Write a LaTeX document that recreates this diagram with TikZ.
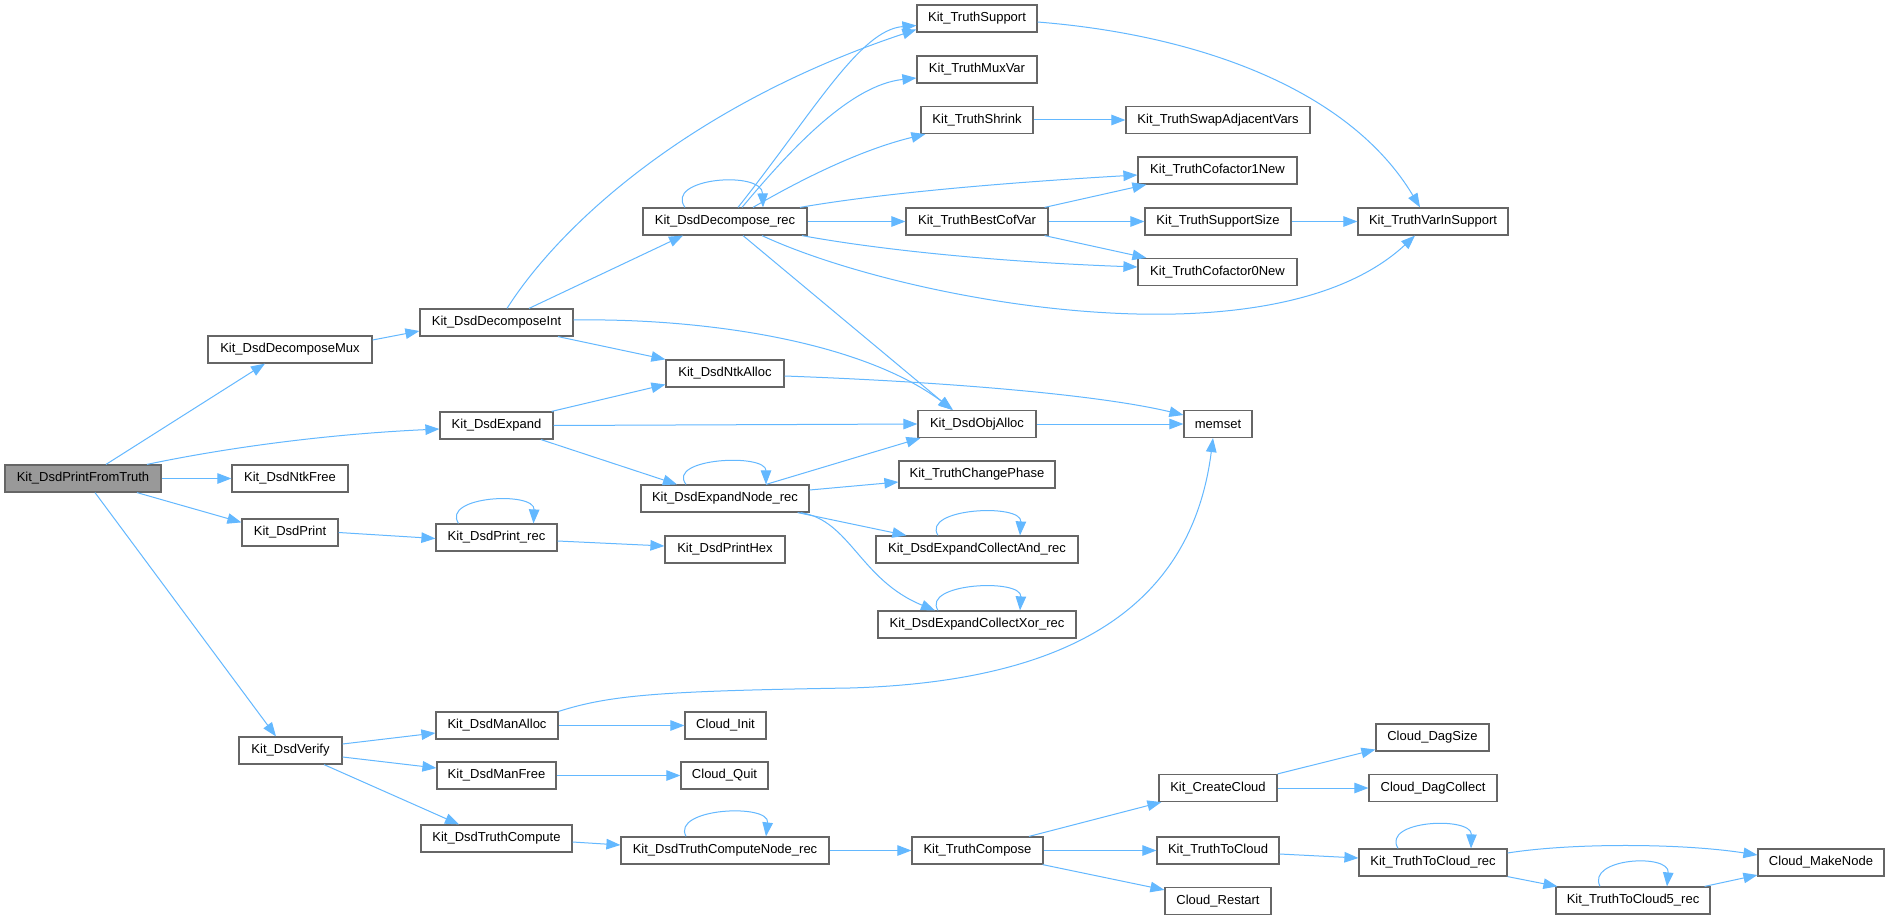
\documentclass[tikz,border=0pt]{standalone}
\usepackage{fontspec}
\setmainfont{Liberation Sans}
\usetikzlibrary{arrows.meta}
\definecolor{edgec}{HTML}{63B8FF}
\definecolor{borderc}{HTML}{666666}
\definecolor{rootc}{HTML}{999999}
\tikzset{
  box/.style={draw=borderc, line width=1.2pt, fill=white, minimum height=27pt, inner sep=0pt, font=\fontsize{13}{15}\selectfont, text=black},
  rootbox/.style={box, fill=rootc},
  e/.style={draw=edgec, line width=1pt, -{Triangle[length=14pt,width=10.5pt]}, fill=none},
}
\begin{document}
\begin{tikzpicture}[x=1pt,y=1pt]
\useasboundingbox (0,0) rectangle (1889,-920);
\fill[white] (0,0) rectangle (1889,-920);
% nodes
\node[rootbox, minimum width=156pt] (A) at (83,-478.5) {Kit\_DsdPrintFromTruth};
\node[box, minimum width=164pt] (B) at (290,-349.5) {Kit\_DsdDecomposeMux};
\node[box, minimum width=116pt] (C) at (290,-478.5) {Kit\_DsdNtkFree};
\node[box, minimum width=96pt] (D) at (290,-532.5) {Kit\_DsdPrint};
\node[box, minimum width=103pt] (E) at (290.5,-750.5) {Kit\_DsdVerify};
\node[box, minimum width=153pt] (F) at (496.5,-322.5) {Kit\_DsdDecomposeInt};
\node[box, minimum width=113pt] (G) at (496.5,-425.5) {Kit\_DsdExpand};
\node[box, minimum width=121pt] (H) at (496.5,-537.5) {Kit\_DsdPrint\_rec};
\node[box, minimum width=122pt] (I) at (497,-725.5) {Kit\_DsdManAlloc};
\node[box, minimum width=119pt] (J) at (496.5,-775.5) {Kit\_DsdManFree};
\node[box, minimum width=151pt] (K) at (496.5,-838.5) {Kit\_DsdTruthCompute};
\node[box, minimum width=164pt] (L) at (725,-221.5) {Kit\_DsdDecompose\_rec};
\node[box, minimum width=118pt] (M) at (725,-373.5) {Kit\_DsdNtkAlloc};
\node[box, minimum width=168pt] (N) at (725,-498.5) {Kit\_DsdExpandNode\_rec};
\node[box, minimum width=120pt] (O) at (725,-549.5) {Kit\_DsdPrintHex};
\node[box, minimum width=81pt] (P) at (725.5,-725.5) {Cloud\_Init};
\node[box, minimum width=87pt] (Q) at (724.5,-775.5) {Cloud\_Quit};
\node[box, minimum width=208pt] (R) at (725,-850.5) {Kit\_DsdTruthComputeNode\_rec};
\node[box, minimum width=120pt] (S) at (977,-18.5) {Kit\_TruthSupport};
\node[box, minimum width=120pt] (T) at (977,-69.5) {Kit\_TruthMuxVar};
\node[box, minimum width=112pt] (U) at (977,-120) {Kit\_TruthShrink};
\node[box, minimum width=142pt] (V) at (977,-221.5) {Kit\_TruthBestCofVar};
\node[box, minimum width=118pt] (W) at (977,-424) {Kit\_DsdObjAlloc};
\node[box, minimum width=156pt] (X) at (977,-474.5) {Kit\_TruthChangePhase};
\node[box, minimum width=202pt] (Y) at (977,-549.5) {Kit\_DsdExpandCollectAnd\_rec};
\node[box, minimum width=198pt] (Z) at (977,-624.5) {Kit\_DsdExpandCollectXor\_rec};
\node[box, minimum width=131pt] (a) at (977.5,-850.5) {Kit\_TruthCompose};
\node[box, minimum width=184pt] (b) at (1218,-120) {Kit\_TruthSwapAdjacentVars};
\node[box, minimum width=159pt] (c) at (1217.5,-170.5) {Kit\_TruthCofactor1New};
\node[box, minimum width=146pt] (d) at (1218,-221.5) {Kit\_TruthSupportSize};
\node[box, minimum width=159pt] (ee) at (1217.5,-272) {Kit\_TruthCofactor0New};
\node[box, minimum width=68pt] (f) at (1218,-424) {memset};
\node[box, minimum width=118pt] (g) at (1218,-788) {Kit\_CreateCloud};
\node[box, minimum width=122pt] (h) at (1218,-850.5) {Kit\_TruthToCloud};
\node[box, minimum width=106pt] (i) at (1218,-901) {Cloud\_Restart};
\node[box, minimum width=150pt] (j) at (1433,-221.5) {Kit\_TruthVarInSupport};
\node[box, minimum width=113pt] (k) at (1432.5,-737.5) {Cloud\_DagSize};
\node[box, minimum width=128pt] (l) at (1433,-788) {Cloud\_DagCollect};
\node[box, minimum width=148pt] (m) at (1433,-862.5) {Kit\_TruthToCloud\_rec};
\node[box, minimum width=154pt] (n) at (1633,-900.5) {Kit\_TruthToCloud5\_rec};
\node[box, minimum width=126pt] (o) at (1821,-862.5) {Cloud\_MakeNode};
% edges
\draw[e] ([xshift=23pt]A.north) -- ([xshift=-25pt]B.south);
\draw[e] ([xshift=64pt]A.north) .. controls (230,-447) and (330,-434) .. ([yshift=-3.5pt]G.west);
\draw[e] (A.east) -- (C.west);
\draw[e] ([xshift=54pt]A.south) -- ([yshift=-4pt]D.north west);
\draw[e] ([xshift=12pt]A.south) -- ([xshift=-14.5pt]E.north);
\draw[e] ([yshift=9.5pt]B.east) -- ([yshift=-8.5pt]F.west);
\draw[e] ([xshift=10.5pt]F.north) .. controls (560,-225) and (690,-105) .. ([yshift=-11pt]S.west);
\draw[e] ([xshift=32.5pt]F.north) -- ([xshift=-42pt]L.south);
\draw[e] ([xshift=61.5pt]F.south) -- (M.north west);
\draw[e] ([yshift=2.5pt]F.east) .. controls (700,-318) and (860,-340) .. ([xshift=-24pt]W.north);
\draw[e] ([xshift=-40pt]L.north) .. controls (664,-178) and (762,-170) .. ([xshift=38pt]L.north);
\draw[e] ([xshift=13pt]L.north) .. controls (815,-110) and (860,-30) .. ([yshift=-7pt]S.west);
\draw[e] ([xshift=17pt]L.north) .. controls (790,-150) and (850,-85) .. ([yshift=-8.5pt]T.west);
\draw[e] ([xshift=28pt]L.north) .. controls (800,-180) and (860,-150) .. ([xshift=5pt]U.south west);
\draw[e] ([xshift=75pt]L.north) .. controls (900,-190) and (1050,-180) .. ([yshift=-4.5pt]c.west);
\draw[e] (L.east) -- (V.west);
\draw[e] ([xshift=77pt]L.south) .. controls (880,-250) and (1000,-262) .. ([yshift=5pt]ee.west);
\draw[e] ([xshift=37pt]L.south) .. controls (900,-300) and (1270,-370) .. ([xshift=-18pt]j.south);
\draw[e] ([xshift=18pt]L.south) -- ([xshift=-25pt]W.north);
\draw[e] ([yshift=-3.5pt]S.east) .. controls (1200,-35) and (1350,-90) .. ([xshift=-13pt]j.north);
\draw[e] (U.east) -- (b.west);
\draw[e] ([xshift=-4pt]V.north east) -- ([xshift=9pt]c.south west);
\draw[e] (V.east) -- (d.west);
\draw[e] ([xshift=-4pt]V.south east) -- ([xshift=9pt]ee.north west);
\draw[e] (d.east) -- (j.west);
\draw[e] ([yshift=-2.5pt]M.east) .. controls (950,-382) and (1100,-395) .. ([yshift=9pt]f.west);
\draw[e] ([xshift=-2pt]G.north east) -- ([yshift=-11pt]M.west);
\draw[e] (G.east) -- (W.west);
\draw[e] ([xshift=44.5pt]G.south) -- ([xshift=-48pt]N.north);
\draw[e] (W.east) -- (f.west);
\draw[e] ([xshift=-39pt]N.north) .. controls (666,-458) and (766,-453) .. ([xshift=41pt]N.north);
\draw[e] ([xshift=41pt]N.north) -- ([xshift=3pt]W.south west);
\draw[e] ([yshift=8.5pt]N.east) -- ([yshift=-7.5pt]X.west);
\draw[e] ([xshift=-12pt]N.south east) -- ([xshift=31pt]Y.north west);
\draw[e] ([xshift=-9pt]N.south east) .. controls (850,-520) and (860,-580) .. ([xshift=-42pt]Z.north);
\draw[e] ([xshift=-39pt]Y.north) .. controls (921,-508) and (1022,-503) .. ([xshift=43pt]Y.north);
\draw[e] ([xshift=-39pt]Z.north) .. controls (921,-583) and (1022,-578) .. ([xshift=43pt]Z.north);
\draw[e] (D.east) -- ([yshift=-1pt]H.west);
\draw[e] ([xshift=-38pt]H.north) .. controls (441,-496) and (535,-491) .. ([xshift=37pt]H.north);
\draw[e] ([yshift=-3.5pt]H.east) -- ([yshift=3.5pt]O.west);
\draw[e] ([yshift=6.5pt]E.east) -- ([yshift=-7.5pt]I.west);
\draw[e] ([yshift=-6.5pt]E.east) -- ([yshift=7.5pt]J.west);
\draw[e] ([xshift=33.5pt]E.south) -- ([xshift=-37.5pt]K.north);
\draw[e] (I.north east) .. controls (610,-695) and (660,-691) .. (850,-688) .. controls (1050,-682) and (1190,-620) .. ([xshift=-5pt]f.south);
\draw[e] (I.east) -- (P.west);
\draw[e] (J.east) -- (Q.west);
\draw[e] ([yshift=-3.5pt]K.east) -- ([yshift=5.5pt]R.west);
\draw[e] ([xshift=-39pt]R.north) .. controls (671,-808) and (770,-803) .. ([xshift=41pt]R.north);
\draw[e] (R.east) -- (a.west);
\draw[e] ([xshift=51.5pt]a.north) -- ([xshift=3pt]g.south west);
\draw[e] (a.east) -- (h.west);
\draw[e] ([xshift=-1pt]a.south east) -- ([yshift=-3pt]i.north west);
\draw[e] (g.north east) -- ([yshift=-12pt]k.west);
\draw[e] (g.east) -- (l.west);
\draw[e] ([yshift=-3.5pt]h.east) -- ([yshift=4.5pt]m.west);
\draw[e] ([xshift=-35pt]m.north) .. controls (1381,-820) and (1472,-816) .. ([xshift=38pt]m.north);
\draw[e] ([yshift=9.5pt]m.east) .. controls (1570,-843) and (1680,-843) .. ([yshift=7.5pt]o.west);
\draw[e] (m.south east) -- ([xshift=2pt]n.north west);
\draw[e] ([xshift=-33pt]n.north) .. controls (1586,-858) and (1670,-853) .. ([xshift=34pt]n.north);
\draw[e] ([xshift=-6pt]n.north east) -- ([yshift=-12.5pt]o.west);
\end{tikzpicture}
\end{document}
